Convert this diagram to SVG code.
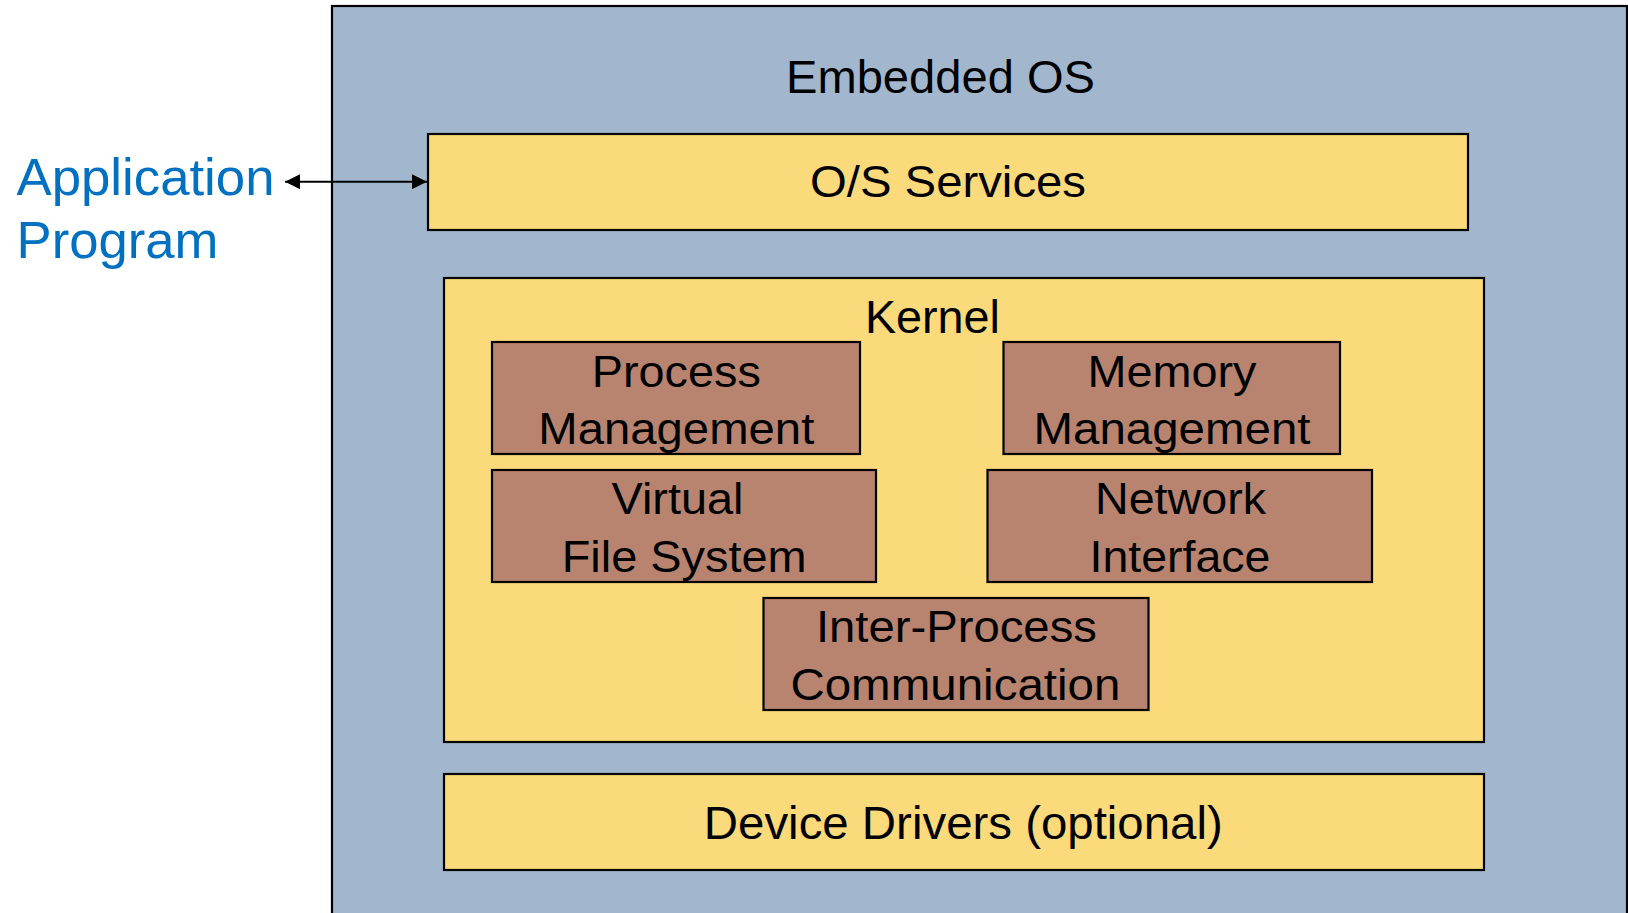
<svg xmlns="http://www.w3.org/2000/svg" width="1628" height="913" viewBox="0 0 1628 913">
  <defs>
    <style>
      .os { fill: #A2B7CE; stroke: #000; stroke-width: 2.2; }
      .layer { fill: #FADA7B; stroke: #000; stroke-width: 2.2; }
      .mod { fill: #B88470; stroke: #000; stroke-width: 2.2; }
      text { font-family: "Liberation Sans", Arial, sans-serif; fill: #000; text-anchor: middle; }
      .t44 { font-size: 44px; }
      .app { font-size: 52.5px; fill: #0070C0; text-anchor: start; }
      .link { stroke: #000; stroke-width: 2; fill: none; }
    </style>
    <marker id="head" viewBox="0 0 10 10" refX="10" refY="5" markerWidth="15" markerHeight="15" markerUnits="userSpaceOnUse" orient="auto-start-reverse">
      <path d="M0,0 L10,5 L0,10 Z" fill="#000"/>
    </marker>
  </defs>

  <rect width="1628" height="913" fill="#fff"/>

  <!-- outer container -->
  <g id="embedded-os">
    <rect class="os" x="332" y="6" width="1295" height="920"/>
    <text x="940.5" y="93.3" font-size="47" textLength="309" lengthAdjust="spacingAndGlyphs">Embedded OS</text>
  </g>

  <g id="application-program">
    <text class="app" x="16.5" y="195" textLength="258" lengthAdjust="spacingAndGlyphs">Application</text>
    <text class="app" x="16.5" y="258.3" textLength="202" lengthAdjust="spacingAndGlyphs">Program</text>
  </g>

  <g id="os-services">
    <rect class="layer" x="428" y="134" width="1040" height="96"/>
    <text class="t44" x="948" y="196.7" textLength="276" lengthAdjust="spacingAndGlyphs">O/S Services</text>
  </g>

  <g id="kernel">
    <rect class="layer" x="444" y="278" width="1040" height="464"/>
    <text x="932.4" y="333.3" font-size="46" textLength="135" lengthAdjust="spacingAndGlyphs">Kernel</text>
  </g>

  <g id="process-management">
    <rect class="mod" x="492" y="342" width="368" height="112"/>
    <text class="t44" x="676.3" y="386.7" textLength="169" lengthAdjust="spacingAndGlyphs">Process</text>
    <text class="t44" x="676.3" y="444" textLength="276" lengthAdjust="spacingAndGlyphs">Management</text>
  </g>

  <g id="memory-management">
    <rect class="mod" x="1003.5" y="342" width="336.5" height="112"/>
    <text class="t44" x="1172" y="386.7" textLength="169" lengthAdjust="spacingAndGlyphs">Memory</text>
    <text class="t44" x="1172" y="444" textLength="277" lengthAdjust="spacingAndGlyphs">Management</text>
  </g>

  <g id="virtual-file-system">
    <rect class="mod" x="492" y="470" width="384" height="112"/>
    <text class="t44" x="677.5" y="514.3" textLength="132" lengthAdjust="spacingAndGlyphs">Virtual</text>
    <text class="t44" x="684.2" y="572" textLength="245" lengthAdjust="spacingAndGlyphs">File System</text>
  </g>

  <g id="network-interface">
    <rect class="mod" x="987.5" y="470" width="384.5" height="112"/>
    <text class="t44" x="1180.5" y="514.3" textLength="171" lengthAdjust="spacingAndGlyphs">Network</text>
    <text class="t44" x="1180" y="572" textLength="181" lengthAdjust="spacingAndGlyphs">Interface</text>
  </g>

  <g id="inter-process-communication">
    <rect class="mod" x="763.5" y="598" width="385" height="112"/>
    <text class="t44" x="956.4" y="642.3" textLength="281" lengthAdjust="spacingAndGlyphs">Inter-Process</text>
    <text class="t44" x="955.4" y="700" textLength="330" lengthAdjust="spacingAndGlyphs">Communication</text>
  </g>

  <g id="device-drivers">
    <rect class="layer" x="444" y="774" width="1040" height="96"/>
    <text x="963.3" y="838.8" font-size="46" textLength="519" lengthAdjust="spacingAndGlyphs">Device Drivers (optional)</text>
  </g>

  <!-- connectors -->
  <g id="connectors">
    <line class="link" x1="285" y1="181.7" x2="427" y2="181.7" marker-start="url(#head)" marker-end="url(#head)"/>
  </g>
</svg>
